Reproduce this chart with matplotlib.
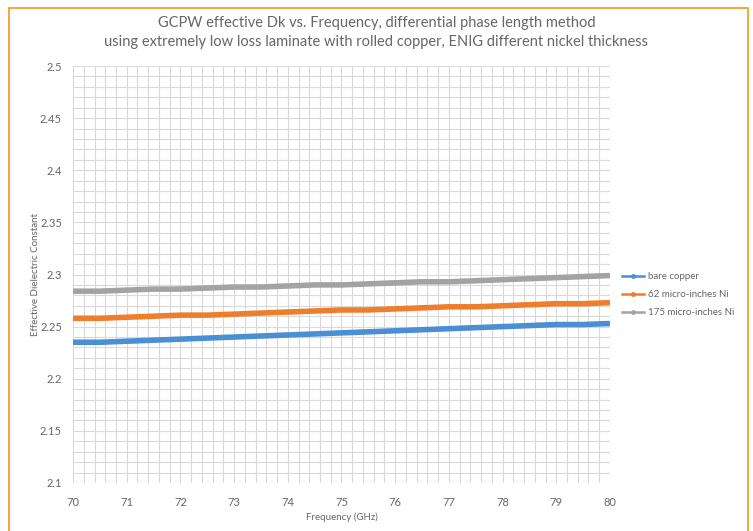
import numpy as np
import matplotlib
matplotlib.use("Agg")
import matplotlib.pyplot as plt
import matplotlib.ticker as mticker
from matplotlib.patches import Rectangle

matplotlib.rcParams.update({
    "font.family": ["Lato", "DejaVu Sans"],
    "font.size": 8,
})

# ── data ─────────────────────────────────────────────────────────────────────
freq = [70, 70.5, 71, 71.5, 72, 72.5, 73, 73.5, 74, 74.5, 75,
        75.5, 76, 76.5, 77, 77.5, 78, 78.5, 79, 79.5, 80]

bare_copper = [2.235, 2.235, 2.236, 2.237, 2.238, 2.239, 2.240, 2.241, 2.242, 2.243, 2.244,
               2.245, 2.246, 2.247, 2.248, 2.249, 2.250, 2.251, 2.252, 2.252, 2.253]
ni_62 = [2.258, 2.258, 2.259, 2.260, 2.261, 2.261, 2.262, 2.263, 2.264, 2.265, 2.266,
         2.266, 2.267, 2.268, 2.269, 2.269, 2.270, 2.271, 2.272, 2.272, 2.273]
ni_175 = [2.284, 2.284, 2.285, 2.286, 2.286, 2.287, 2.288, 2.288, 2.289, 2.290, 2.290,
          2.291, 2.292, 2.293, 2.293, 2.294, 2.295, 2.296, 2.297, 2.298, 2.299]

series = [
    ("bare copper", bare_copper, "#4a8fd4"),
    ("62 micro-inches Ni", ni_62, "#ee7d2c"),
    ("175 micro-inches Ni", ni_175, "#a3a3a3"),
]

TITLE = ("GCPW effective Dk vs. Frequency, differential phase length method\n"
         "using extremely low loss laminate with rolled copper, ENIG different nickel thickness")

# ── figure ───────────────────────────────────────────────────────────────────
fig = plt.figure(figsize=(7.53, 5.31), dpi=100)
ax = fig.add_axes([0.097, 0.0904, 0.713, 0.7853])

for label, vals, col in series:
    ax.plot(freq, vals, color=col, linewidth=4, solid_capstyle="butt",
            label=label, zorder=3)

ax.set_xlim(70, 80)
ax.set_ylim(2.1, 2.5)
ax.xaxis.set_major_locator(mticker.MultipleLocator(1))
ax.xaxis.set_minor_locator(mticker.MultipleLocator(0.2))
ax.yaxis.set_major_locator(mticker.MultipleLocator(0.05))
ax.yaxis.set_minor_locator(mticker.MultipleLocator(0.01))
ax.yaxis.set_major_formatter(mticker.FuncFormatter(lambda v, _: f"{v:g}"))

ax.grid(which="both", color="#d9d9d9", linewidth=0.8, zorder=0)
for s in ax.spines.values():
    s.set_visible(False)
ax.tick_params(which="both", length=0, colors="#666666", labelsize=8)
ax.tick_params(axis="x", pad=10)
ax.tick_params(axis="y", pad=8)

ax.set_xlabel("Frequency (GHz)", fontsize=7, color="#666666", labelpad=3)
ax.set_ylabel("Effective Dielectric Constant", fontsize=7, color="#666666", labelpad=0)

fig.text(0.5, 0.938, TITLE, ha="center", va="center", fontsize=10.5,
         color="#666666", linespacing=1.45)

handles = [plt.Line2D([0], [0], color=c, linewidth=1.8, marker="o", markersize=2.5)
           for _, _, c in series]
fig.legend(handles, [s[0] for s in series], loc="center left",
           bbox_to_anchor=(0.815, 0.445), frameon=False, fontsize=7,
           handlelength=2.2, handletextpad=0.4, labelspacing=0.9,
           labelcolor="#666666")

# orange frame around the chart
fig.patches.append(Rectangle((9 / 753, -0.05), 739 / 753, 1.05 - 8 / 531,
                             transform=fig.transFigure, fill=False,
                             edgecolor="#f0a030", linewidth=1.3))

fig.savefig("out.png", dpi=100)
